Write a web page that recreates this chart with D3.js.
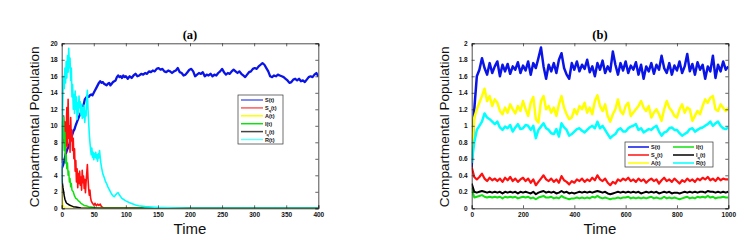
<!DOCTYPE html>
<html>
<head>
<meta charset="utf-8">
<script src="https://cdn.jsdelivr.net/npm/d3@7.9.0/dist/d3.min.js"></script>
<style>
  body { margin: 0; background: #fff; }
  svg { display: block; }
  text { font-family: "Liberation Sans", Arial, sans-serif; }
  text.title { font-family: "Liberation Serif", "Times New Roman", serif; }
</style>
</head>
<body>
<svg id="chart" width="749" height="252"></svg>
<script>
// ---- panel (a) data: [time, value] pairs ----
const sA = [[0,4.8],[2,5.2],[4,5.8],[6,6.5],[8,7.0],[10,7.4],[12,7.8],[14,8.3],[16,8.8],[18,9.3],[20,9.6],[22,10.1],[24,10.5],[26,10.9],[28,11.3],[30,11.6],[32,12.0],[34,12.5],[36,13.2],[38,13.4],[40,13.6],[42,13.5],[44,13.7],[46,13.8],[48,13.7],[50,14.0],[52,14.3],[54,14.6],[56,14.9],[58,15.2],[60,15.4],[62,15.2],[64,15.3],[66,15.1],[68,15.0],[70,14.9],[72,15.1],[74,15.2],[76,14.9],[78,15.1],[80,15.3],[82,15.4],[84,15.5],[86,15.9],[88,16.1],[90,15.9],[92,16.0],[94,15.8],[96,16.1],[98,15.9],[100,16.0],[103,15.7],[106,16.0],[109,15.8],[112,16.1],[115,16.3],[118,16.0],[121,16.1],[124,16.3],[127,16.2],[130,16.4],[133,16.3],[136,16.6],[139,16.5],[142,16.7],[145,16.6],[148,16.9],[151,17.0],[154,16.8],[157,16.9],[160,16.6],[163,16.5],[166,16.7],[169,16.6],[172,16.4],[175,16.6],[178,16.7],[181,17.0],[184,16.5],[187,16.4],[190,16.1],[193,16.2],[196,16.5],[199,16.8],[202,16.9],[205,16.6],[208,16.0],[211,16.2],[214,16.4],[217,16.3],[220,16.5],[223,16.0],[226,16.2],[229,16.1],[232,16.3],[235,16.0],[238,16.2],[241,16.1],[244,16.4],[247,16.6],[250,16.9],[253,16.5],[256,16.2],[259,16.4],[262,16.3],[265,16.6],[268,16.8],[271,16.6],[274,16.4],[277,16.6],[280,16.3],[283,16.1],[286,15.9],[289,16.2],[292,16.5],[295,16.6],[298,16.9],[301,17.0],[304,16.9],[307,17.2],[310,17.4],[313,17.6],[316,17.4],[319,17.0],[322,16.6],[325,16.0],[328,15.9],[331,16.1],[334,16.0],[337,16.2],[340,16.1],[343,16.0],[346,15.9],[349,15.7],[352,15.5],[355,15.2],[358,15.3],[361,15.6],[364,15.7],[367,15.5],[370,15.7],[373,15.4],[376,15.5],[379,15.3],[382,15.6],[385,15.9],[388,16.0],[391,15.9],[394,16.2],[397,16.4],[400,16.0]];
const sqA = [[0,5.5],[1,7],[2,9.5],[3,11.2],[4,8],[5,10.5],[6,6.5],[7,9],[8,12.2],[9,7.5],[10,13.2],[11,8.5],[12,10],[13,6.8],[14,11],[15,8.2],[16,9.5],[17,7],[18,8.5],[19,6],[20,7.2],[21,4.5],[22,5.8],[23,3.2],[24,4.8],[25,2.5],[26,4.2],[27,3],[28,4.5],[29,2.8],[30,3.8],[31,2.2],[32,4.6],[33,3.1],[34,3.9],[35,2.4],[36,3.5],[37,1.9],[38,3.2],[39,4.2],[40,5.3],[41,3.6],[42,2.4],[43,1.6],[44,2.2],[45,1.3],[46,0.9],[48,0.6],[50,0.4],[52,0.6],[54,0.3],[56,0.5],[58,0.35],[60,0.5],[62,0.2],[64,0.1],[66,0],[400,0]];
const aA = [[0,2.7],[0.5,1.6],[1,0.9],[2,0.4],[3,0.2],[4,0.1],[6,0],[400,0]];
const iA = [[0,6],[1,10.5],[2,8.5],[3,11],[4,7],[5,9.2],[6,5.5],[7,6.5],[8,4.8],[9,5.5],[10,4],[11,4.5],[12,3.2],[13,3.6],[14,2.6],[15,3],[16,2.2],[18,2],[20,1.5],[22,1.2],[24,1.1],[26,0.9],[28,0.8],[30,0.6],[32,0.5],[35,0.35],[38,0.3],[42,0.2],[46,0.15],[50,0.1],[55,0.05],[60,0],[400,0]];
const iqA = [[0,4.8],[0.5,3.5],[1,3.1],[1.5,2.8],[2,2.5],[3,2],[4,1.5],[5,1.1],[6,0.9],[7,0.7],[8,0.6],[10,0.5],[12,0.4],[15,0.3],[18,0.2],[22,0.15],[26,0.1],[30,0.05],[40,0.02],[60,0],[400,0]];
const rA = [[0,3],[1,10],[2,14],[3,16],[4,14.5],[5,17],[6,15.2],[7,17.8],[8,15.8],[9,18.5],[10,16.5],[11,19.4],[12,17],[13,18.2],[14,15.5],[15,17],[16,13.5],[17,15],[18,12],[19,13.8],[20,11.5],[21,14.2],[22,12],[23,13.5],[24,10.8],[25,12.8],[26,11.5],[27,13.6],[28,12.2],[29,12.9],[30,11.3],[31,12.6],[32,10.9],[33,12.2],[34,11],[35,12.5],[36,10.4],[37,11.8],[38,11.2],[39,13.4],[40,14.3],[41,12],[42,10.5],[43,9],[44,8],[45,7.2],[46,6.5],[47,7.3],[48,6.2],[49,6.8],[50,5.9],[51,6.6],[52,6.2],[53,6.8],[54,6],[55,6.5],[56,5.7],[57,6.6],[58,6.1],[59,7],[60,6.2],[61,5.5],[62,5],[63,4.6],[64,4.2],[66,3.8],[68,3.3],[70,3],[72,2.6],[74,2.3],[76,2],[78,1.7],[80,1.5],[82,1.4],[84,1.6],[86,1.8],[88,1.9],[90,1.6],[92,1.4],[94,1.2],[96,1.1],[100,0.9],[105,0.7],[110,0.55],[115,0.4],[120,0.3],[130,0.2],[140,0.15],[150,0.1],[165,0.05],[180,0.02],[200,0],[400,0]];

// ---- panel (b) data: one value every 10 time units, t = 0..1000 ----
const timeStepB = 10;
const sB = [0.5,1.2,1.6,1.68,1.82,1.7,1.62,1.76,1.64,1.72, 1.78,1.6,1.74,1.66,1.75,1.63,1.72,1.68,1.77,1.64, 1.73,1.67,1.78,1.62,1.76,1.7,1.82,1.95,1.72,1.57, 1.74,1.66,1.76,1.64,1.8,1.88,1.7,1.62,1.57,1.76, 1.68,1.78,1.66,1.74,1.69,1.8,1.65,1.72,1.6,1.76, 1.68,1.79,1.64,1.72,1.66,1.9,1.74,1.62,1.76,1.67, 1.78,1.64,1.73,1.68,1.77,1.62,1.74,1.57,1.72,1.66, 1.76,1.63,1.74,1.68,1.85,1.7,1.64,1.76,1.62,1.73, 1.67,1.78,1.64,1.72,1.87,1.66,1.75,1.62,1.77,1.68, 1.74,1.57,1.72,1.66,1.85,1.58,1.74,1.66,1.78,1.68, 1.72];
const aB = [0.6,1.1,1.2,1.28,1.36,1.45,1.3,1.36,1.24,1.32, 1.28,1.18,1.14,1.22,1.16,1.26,1.2,1.15,1.24,1.18, 1.3,1.2,1.12,1.28,1.35,1.08,1.04,1.3,1.36,1.2, 1.24,1.16,1.22,1.12,1.26,1.36,1.22,1.14,1.08,1.1, 1.2,1.14,1.24,1.2,1.28,1.16,1.22,1.14,1.3,1.37, 1.24,1.18,1.26,1.12,1.05,1.14,1.2,1.32,1.18,1.14, 1.24,1.28,1.12,1.16,1.2,1.24,1.3,1.22,1.18,1.24, 1.1,1.16,1.2,1.14,1.06,1.2,1.3,1.22,1.18,1.12, 1.1,1.2,1.26,1.16,1.22,1.2,1.06,1.12,1.18,1.14, 1.24,1.32,1.28,1.34,1.36,1.2,1.18,1.26,1.22,1.18, 1.22];
const rB = [0.55,0.8,0.95,1.0,1.05,1.15,1.1,1.08,1.05,1.02, 1.05,0.98,0.95,0.99,0.97,1.01,0.93,0.98,1.02,0.96, 0.97,1.01,1.0,0.95,1.0,0.85,0.95,0.99,1.03,0.97, 0.95,0.91,0.9,0.96,0.87,1.03,0.98,0.95,0.88,0.9, 0.93,0.96,0.97,0.94,0.92,0.95,0.98,1.0,0.97,1.05, 0.97,1.0,0.95,0.9,0.85,0.88,0.9,0.95,0.97,0.93, 0.93,0.97,0.99,1.0,1.02,0.95,0.97,0.92,0.94,0.96, 0.95,0.98,1.0,0.93,0.88,0.92,0.93,0.97,0.98,0.95, 0.95,0.91,0.88,0.9,0.92,0.96,0.97,0.93,0.95,0.97, 0.98,1.0,1.02,1.05,1.0,1.03,1.05,1.0,0.97,0.96, 0.98];
const sqB = [0.5,0.38,0.35,0.38,0.42,0.36,0.33,0.37,0.34,0.36, 0.33,0.36,0.32,0.37,0.34,0.38,0.33,0.36,0.32,0.35, 0.37,0.33,0.36,0.31,0.35,0.28,0.32,0.36,0.4,0.35, 0.33,0.36,0.32,0.35,0.31,0.39,0.34,0.32,0.29,0.33, 0.31,0.35,0.33,0.36,0.32,0.35,0.33,0.37,0.34,0.4, 0.35,0.33,0.36,0.31,0.28,0.32,0.3,0.35,0.33,0.36, 0.34,0.37,0.33,0.35,0.32,0.36,0.33,0.35,0.31,0.34, 0.36,0.33,0.35,0.3,0.34,0.37,0.33,0.35,0.32,0.36, 0.33,0.3,0.34,0.32,0.36,0.33,0.35,0.32,0.36,0.34, 0.37,0.35,0.38,0.34,0.36,0.33,0.37,0.34,0.36,0.35, 0.35];
const iqB = [0.3,0.2,0.19,0.2,0.21,0.2,0.19,0.2,0.19,0.2, 0.19,0.2,0.18,0.2,0.19,0.2,0.19,0.2,0.18,0.2, 0.19,0.2,0.19,0.18,0.2,0.17,0.19,0.2,0.21,0.19, 0.2,0.19,0.2,0.18,0.19,0.21,0.19,0.2,0.18,0.19, 0.18,0.19,0.2,0.19,0.2,0.19,0.2,0.19,0.2,0.21, 0.2,0.19,0.2,0.18,0.17,0.18,0.19,0.2,0.19,0.2, 0.19,0.2,0.19,0.2,0.19,0.2,0.18,0.19,0.2,0.19, 0.2,0.19,0.2,0.18,0.19,0.2,0.19,0.2,0.18,0.19, 0.19,0.18,0.19,0.2,0.19,0.2,0.19,0.2,0.19,0.2, 0.2,0.19,0.21,0.2,0.2,0.19,0.2,0.19,0.2,0.19, 0.2];
const iB = [0.25,0.13,0.14,0.15,0.16,0.14,0.13,0.14,0.13,0.14, 0.13,0.14,0.12,0.14,0.13,0.14,0.13,0.14,0.12,0.13, 0.14,0.13,0.14,0.12,0.13,0.11,0.13,0.14,0.15,0.13, 0.13,0.14,0.12,0.13,0.12,0.15,0.13,0.12,0.11,0.12, 0.12,0.13,0.12,0.13,0.12,0.13,0.12,0.14,0.13,0.15, 0.13,0.12,0.13,0.12,0.11,0.12,0.12,0.13,0.12,0.13, 0.13,0.14,0.12,0.13,0.12,0.13,0.12,0.13,0.12,0.13, 0.14,0.12,0.13,0.12,0.12,0.14,0.12,0.13,0.12,0.13, 0.12,0.11,0.12,0.13,0.14,0.12,0.13,0.12,0.14,0.13, 0.14,0.13,0.15,0.13,0.14,0.12,0.13,0.13,0.14,0.13, 0.13];

const ticksA_x = [0,50,100,150,200,250,300,350,400];
const ticksA_y = [0,2,4,6,8,10,12,14,16,18,20];
const ticksB_x = [0,200,400,600,800,1000];
const ticksB_y = [0,0.2,0.4,0.6,0.8,1,1.2,1.4,1.6,1.8,2];

const svg = d3.select('#chart');
svg.append('rect').attr('width', 749).attr('height', 252).attr('fill', '#fff');

// label: main letter, optional subscript
function addLabel(sel, main, sub) {
  sel.append('tspan').text(main);
  if (sub) {
    sel.append('tspan').attr('font-size', '0.7em').attr('dy', '2').text(sub);
    sel.append('tspan').attr('dy', '-2').text('(t)');
  } else {
    sel.append('tspan').text('(t)');
  }
}

function drawPanel(cfg) {
  const g = svg.append('g');
  const x = d3.scaleLinear().domain(cfg.xDomain).range([cfg.left, cfg.right]);
  const y = d3.scaleLinear().domain(cfg.yDomain).range([cfg.bottom, cfg.top]);

  const clipId = 'clip-' + cfg.name;
  svg.append('clipPath').attr('id', clipId)
    .append('rect')
    .attr('x', cfg.left).attr('y', cfg.top)
    .attr('width', cfg.right - cfg.left).attr('height', cfg.bottom - cfg.top);

  const line = d3.line().x((d) => x(d[0])).y((d) => y(d[1]));
  const lines = g.append('g').attr('clip-path', `url(#${clipId})`);
  cfg.series.forEach((s) => {
    lines.append('path')
      .attr('d', line(s.data))
      .attr('fill', 'none')
      .attr('stroke', s.color)
      .attr('stroke-width', s.width)
      .attr('stroke-linejoin', 'round');
  });

  // box with inward ticks on all sides
  const tl = 3;
  const axisStyle = (a) => {
    a.selectAll('.domain').attr('stroke', '#222').attr('stroke-width', 0.8);
    a.selectAll('.tick line').attr('stroke', '#222').attr('stroke-width', 0.7);
    a.selectAll('.tick text')
      .attr('font-size', 6.5).attr('font-weight', 'bold').attr('fill', '#111');
  };
  const fmt = (d) => String(+d.toFixed(1));
  g.append('g').attr('transform', `translate(0,${cfg.bottom})`)
    .call(d3.axisBottom(x).tickValues(cfg.xTicks).tickSize(-tl).tickPadding(4).tickFormat(fmt))
    .call(axisStyle);
  g.append('g').attr('transform', `translate(0,${cfg.top})`)
    .call(d3.axisTop(x).tickValues(cfg.xTicks).tickSize(-tl).tickFormat(''))
    .call(axisStyle);
  g.append('g').attr('transform', `translate(${cfg.left},0)`)
    .call(d3.axisLeft(y).tickValues(cfg.yTicks).tickSize(-tl).tickPadding(4).tickFormat(fmt))
    .call(axisStyle);
  g.append('g').attr('transform', `translate(${cfg.right},0)`)
    .call(d3.axisRight(y).tickValues(cfg.yTicks).tickSize(-tl).tickFormat(''))
    .call(axisStyle);

  const cx = (cfg.left + cfg.right) / 2;
  g.append('text').attr('class', 'title').attr('x', cx).attr('y', 39)
    .attr('text-anchor', 'middle')
    .attr('font-size', 12.5).attr('font-weight', 'bold')
    .text(cfg.title);
  g.append('text').attr('x', cx).attr('y', 234)
    .attr('text-anchor', 'middle').attr('font-size', 15).attr('fill', '#111')
    .text('Time');
  g.append('text')
    .attr('transform', `translate(${cfg.left - 23},${(cfg.top + cfg.bottom) / 2 + 1}) rotate(-90)`)
    .attr('text-anchor', 'middle').attr('font-size', 13.6).attr('fill', '#111')
    .text('Compartmental Population');

  // legend
  const lg = cfg.legend;
  g.append('rect')
    .attr('x', lg.x).attr('y', lg.y).attr('width', lg.w).attr('height', lg.h)
    .attr('fill', '#fff').attr('stroke', '#333').attr('stroke-width', 0.7);
  lg.order.forEach((idx, k) => {
    const s = cfg.series[idx];
    const col = Math.floor(k / lg.rows);
    const row = k % lg.rows;
    const x0 = lg.x + 3 + col * lg.colW;
    const yy = lg.y + 5 + row * lg.rowH;
    g.append('line')
      .attr('x1', x0).attr('x2', x0 + lg.lineLen)
      .attr('y1', yy).attr('y2', yy)
      .attr('stroke', s.legendColor || s.color).attr('stroke-width', 1.5);
    const t = g.append('text')
      .attr('x', x0 + lg.lineLen + 2).attr('y', yy + 2)
      .attr('font-size', 5.5).attr('font-weight', 'bold').attr('fill', '#111');
    addLabel(t, s.label, s.sub);
  });
}

const toPairs = (arr) => arr.map((v, i) => [i * timeStepB, v]);

drawPanel({
  name: 'a', title: '(a)',
  left: 61.7, right: 318.3, top: 43.3, bottom: 208.3,
  xDomain: [0, 400], yDomain: [0, 20],
  xTicks: ticksA_x, yTicks: ticksA_y,
  series: [
    { label: 'S', data: sA, color: '#0a14e6', width: 2.3, legendColor: '#5a64f0' },
    { label: 'S', sub: 'q', data: sqA, color: '#ff1010', width: 1.6, legendColor: '#ff5a5a' },
    { label: 'A', data: aA, color: '#ffff00', width: 1.4 },
    { label: 'I', data: iA, color: '#10e010', width: 1.5 },
    { label: 'I', sub: 'q', data: iqA, color: '#000000', width: 1.5, legendColor: '#444' },
    { label: 'R', data: rA, color: '#00ffff', width: 1.6, legendColor: '#66ffff' },
  ],
  legend: { x: 238, y: 95, w: 45, h: 49, rows: 6, rowH: 7.9, colW: 0, lineLen: 22, order: [0,1,2,3,4,5] },
});

drawPanel({
  name: 'b', title: '(b)',
  left: 471.7, right: 728.3, top: 43.3, bottom: 208.3,
  xDomain: [0, 1000], yDomain: [0, 2],
  xTicks: ticksB_x, yTicks: ticksB_y,
  series: [
    { label: 'S', data: toPairs(sB), color: '#0a14e6', width: 2.5 },
    { label: 'S', sub: 'q', data: toPairs(sqB), color: '#ff1010', width: 2.2 },
    { label: 'A', data: toPairs(aB), color: '#ffff00', width: 2.5 },
    { label: 'I', data: toPairs(iB), color: '#10e010', width: 2 },
    { label: 'I', sub: 'q', data: toPairs(iqB), color: '#000000', width: 2 },
    { label: 'R', data: toPairs(rB), color: '#00ffff', width: 2.5 },
  ],
  legend: { x: 625, y: 142, w: 88, h: 25, rows: 3, rowH: 8, colW: 45, lineLen: 21, order: [0,1,2,3,4,5] },
});
</script>
</body>
</html>
